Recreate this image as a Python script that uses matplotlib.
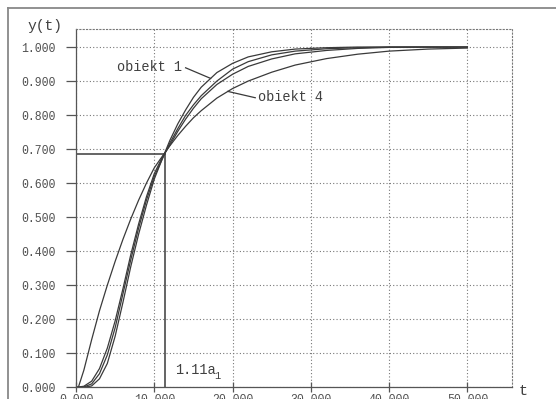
import numpy as np
import matplotlib
matplotlib.use('Agg')
from matplotlib import pyplot as plt
from matplotlib.lines import Line2D

# step responses
t = [0, 1, 2, 3, 4, 5, 6, 7, 8, 9, 10, 11, 12, 13, 14, 15, 16, 18, 20, 22, 25, 28, 32, 36, 40, 45, 50]
y_obj1 = [0, 0, 0.004, 0.025, 0.07, 0.15, 0.25, 0.355, 0.45, 0.535, 0.612, 0.67, 0.726, 0.774, 0.815, 0.852, 0.882, 0.925, 0.952, 0.971, 0.986, 0.994, 0.998, 1.0, 1.0, 1.0, 1.0]
y_obj2 = [0, 0.001, 0.01, 0.04, 0.095, 0.175, 0.275, 0.375, 0.468, 0.55, 0.62, 0.67, 0.718, 0.76, 0.799, 0.83, 0.857, 0.9, 0.935, 0.957, 0.977, 0.988, 0.995, 0.998, 1.0, 1.0, 1.0]
y_obj3 = [0, 0.003, 0.018, 0.055, 0.115, 0.195, 0.29, 0.39, 0.48, 0.56, 0.628, 0.675, 0.712, 0.752, 0.788, 0.82, 0.848, 0.89, 0.92, 0.943, 0.965, 0.98, 0.99, 0.996, 0.999, 1.0, 1.0]
t4 = [0, 0.3, 1, 2, 3, 4, 5, 6, 7, 8, 9, 10, 11, 12, 13, 14, 15, 16, 18, 20, 22, 25, 28, 32, 36, 40, 45, 50]
y_obj4 = [0, 0, 0.05, 0.14, 0.225, 0.3, 0.37, 0.435, 0.495, 0.55, 0.6, 0.645, 0.678, 0.71, 0.74, 0.767, 0.792, 0.813, 0.85, 0.878, 0.9, 0.926, 0.947, 0.966, 0.979, 0.988, 0.994, 0.997]

t_cross = 11.4
y_cross = 0.687

x_ticks = [0, 10, 20, 30, 40, 50]
y_ticks = [0, 0.1, 0.2, 0.3, 0.4, 0.5, 0.6, 0.7, 0.8, 0.9, 1.0]

mono = 'Liberation Mono'
line_c = '#3a3a3a'
text_c = '#505050'

fig = plt.figure(figsize=(5.56, 3.99), dpi=100)
ax = fig.add_axes([76/556, 1 - 387.3/399, (512-76)/556, (387.3-29)/399])

for tt, yy in [(t, y_obj1), (t, y_obj2), (t, y_obj3), (t4, y_obj4)]:
    ax.plot(tt, yy, color=line_c, lw=0.9)

# 1.11a1 marker lines
ax.plot([0, t_cross], [y_cross, y_cross], color=line_c, lw=1.1)
ax.plot([t_cross, t_cross], [0, y_cross], color=line_c, lw=1.1)

ax.set_xlim(0, 55.7)
ax.set_ylim(0, 1.053)
ax.set_xticks(x_ticks)
ax.set_yticks(y_ticks)
ax.set_xticklabels(['%.3f' % v for v in x_ticks], fontfamily=mono, fontsize=8.3, color=text_c)
ax.set_yticklabels(['%.3f' % v for v in y_ticks], fontfamily=mono, fontsize=8.3, color=text_c)
ax.tick_params(axis='y', direction='out', length=7.2, pad=7.2, color='#555', width=0.9)
ax.tick_params(axis='x', direction='inout', length=7, pad=1, color='#555', width=0.9)

ax.grid(True, color='#777', lw=0.8, linestyle=(0, (1, 2)))
for s in ['top', 'right']:
    ax.spines[s].set_linestyle((0, (1, 2)))
    ax.spines[s].set_color('#777')
    ax.spines[s].set_linewidth(0.8)
for s in ['left', 'bottom']:
    ax.spines[s].set_color('#555')
    ax.spines[s].set_linewidth(0.9)

# labels
fig.text(27/556, 1 - 26/399, 'y(t)', fontfamily=mono, fontsize=10.5, color='#404040', va='center', ha='left')
fig.text(519/556, 1 - 391/399, 't', fontfamily=mono, fontsize=11, color='#404040', va='center', ha='left')

ax.text(5.2, 0.942, 'obiekt 1', fontfamily=mono, fontsize=9.8, color='#404040', va='center', ha='left')
p1 = 17.2
ax.plot([14.0, p1], [0.939, np.interp(p1, t, y_obj1)], color=line_c, lw=0.9)
ax.text(23.2, 0.854, 'obiekt 4', fontfamily=mono, fontsize=9.8, color='#404040', va='center', ha='left')
p4 = 19.4
ax.plot([22.9, p4], [0.851, np.interp(p4, t4, y_obj4)], color=line_c, lw=0.9)

ax.text(12.6, 0.052, '1.11a', fontfamily=mono, fontsize=9.8, color='#404040', va='center', ha='left')
ax.text(17.6, 0.032, '1', fontfamily=mono, fontsize=7.5, color='#404040', va='center', ha='left')

# outer frame
fig.add_artist(Line2D([8/556, 8/556], [0, 1 - 8/399], color='#888', lw=1.3))
fig.add_artist(Line2D([8/556, 1], [1 - 8/399, 1 - 8/399], color='#888', lw=1.3))

fig.savefig('out.png', dpi=100)
